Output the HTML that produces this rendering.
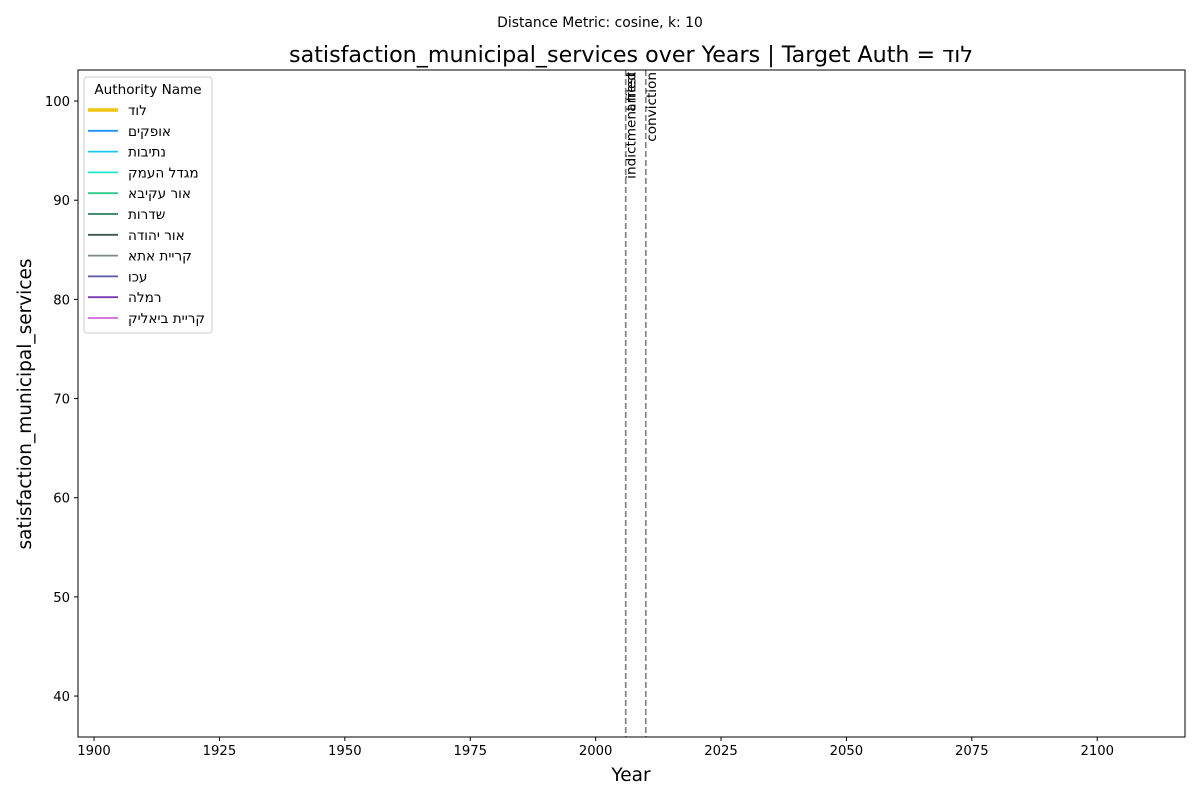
<!DOCTYPE html>
<html><head><meta charset="utf-8"><style>
body{margin:0;background:#fff;}
svg text{font-family:"DejaVu Sans","Liberation Sans","Noto Sans CJK SC",sans-serif;}
</style></head><body>
<svg id="chart" width="1200" height="800" xmlns="http://www.w3.org/2000/svg">
<rect width="1200" height="800" fill="#fff"/>
<text x="600" y="27" text-anchor="middle" font-size="13.9">Distance Metric: cosine, k: 10</text>
<text x="631" y="62" text-anchor="middle" font-size="22.2">satisfaction_municipal_services over Years | Target Auth = לוד</text>
<g id="xt"></g><g id="yt"></g><g id="ev"></g>
<rect x="78" y="70" width="1107" height="667" fill="none" stroke="#000" stroke-width="1"/>
<text x="631" y="781" text-anchor="middle" font-size="18.5">Year</text>
<text transform="translate(31,404) rotate(-90)" text-anchor="middle" font-size="18.5">satisfaction_municipal_services</text>
<g id="legend"></g>
</svg>
<script>
const xTicks=[1900,1925,1950,1975,2000,2025,2050,2075,2100];
const yTicks=[40,50,60,70,80,90,100];
const eventYears=[2006,2006,2010];
const eventLabels=["indictment filed","arrest","conviction"];
const authorities=["לוד","אופקים","נתיבות","מגדל העמק","אור עקיבא","שדרות","אור יהודה","קריית אתא","עכו","רמלה","קריית ביאליק"];
const colors=["#f2c413","#1e90ff","#1ec8f0","#1ee6c8","#2ecc8a","#2e7d5a","#3a5a4e","#7a8a84","#5a5aa8","#7a3ab8","#cc66d6"];
const NS="http://www.w3.org/2000/svg";
const X0=78,X1=1185,Y0=70,Y1=737,xmin=1896.8,xmax=2117.5,ymin=35.87,ymax=103.13;
const sx=v=>X0+(v-xmin)/(xmax-xmin)*(X1-X0);
const sy=v=>Y1-(v-ymin)/(ymax-ymin)*(Y1-Y0);
function el(t,a,p){const e=document.createElementNS(NS,t);for(const k in a)e.setAttribute(k,a[k]);p.appendChild(e);return e;}
const xt=document.getElementById('xt'),yt=document.getElementById('yt'),ev=document.getElementById('ev'),lg=document.getElementById('legend');
xTicks.forEach(v=>{const x=sx(v);
 const l=el('line',{x1:x,x2:x,y1:Y1,y2:Y1+4,stroke:'#000'},xt);
 
 
 const t=el('text',{x:x,y:Y1+18,'text-anchor':'middle','font-size':13.2},xt);t.textContent=v;
 
 });
yTicks.forEach(v=>{const y=sy(v);
 const l=el('line',{x1:X0-4,x2:X0,y1:y,y2:y,stroke:'#000'},yt);
 
 
 const t=el('text',{x:X0-8,y:y+5,'text-anchor':'end','font-size':13.2},yt);t.textContent=v;
 
 });
eventYears.forEach((yr,i)=>{const x=sx(yr);
 const l=el('line',{x1:x,x2:x,y1:Y0,y2:Y1,stroke:'#808080','stroke-width':1.6,'stroke-dasharray':'6,3'},ev);
 
 
 const t=el('text',{transform:`translate(${x+10},${Y0+2}) rotate(-90)`,'text-anchor':'end','font-size':13.6},ev);t.textContent=eventLabels[i];
 
 });
const box=el('rect',{x:84,y:77,width:128,height:256,rx:3,fill:'#fff',stroke:'#ccc'},lg);


const lt=el('text',{x:148,y:94,'text-anchor':'middle','font-size':13.6},lg);lt.textContent='Authority Name';


authorities.forEach((a,i)=>{const y=110+i*20.8;
 const l=el('line',{x1:88,x2:118,y1:y,y2:y,stroke:colors[i],'stroke-width':i===0?3.5:1.8},lg);
 
 
 const t=el('text',{x:128,y:y+5,'font-size':13.6},lg);t.textContent=a;
 
 });
</script>
</body></html>
